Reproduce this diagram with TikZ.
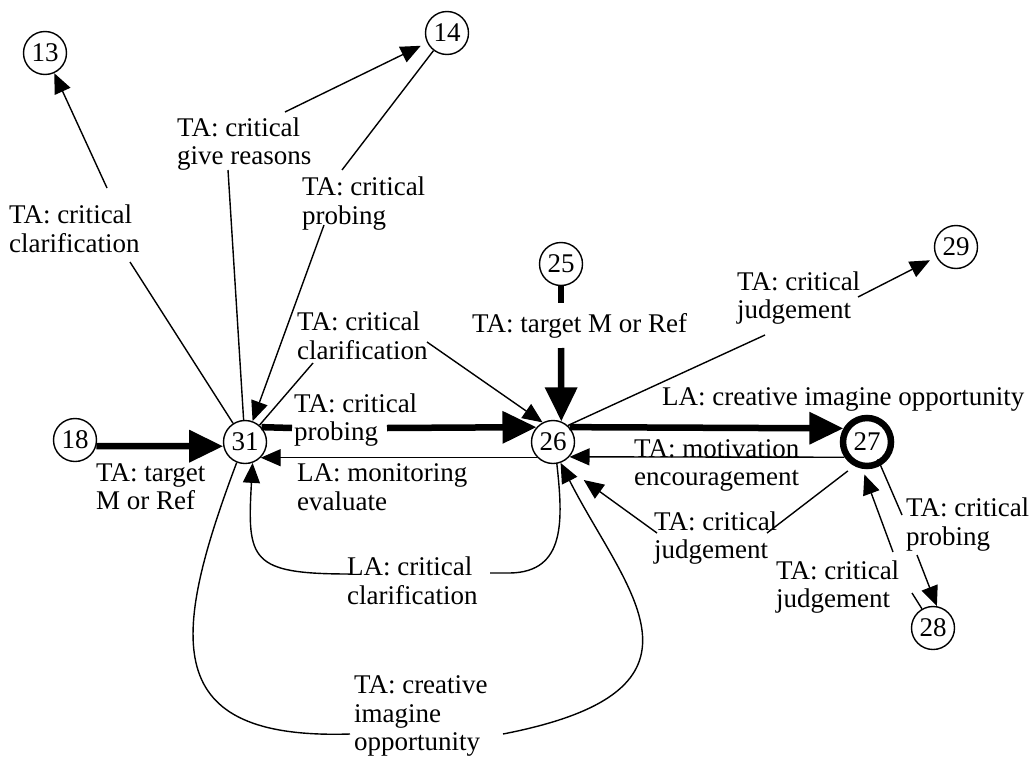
\documentclass[tikz,border=0pt]{standalone}
\usepackage{fontspec}
\setmainfont{Liberation Serif}
\usetikzlibrary{arrows.meta}
\begin{document}
\begin{tikzpicture}[x=1pt,y=-1pt,
  st/.style={circle,draw,line width=1.4pt,minimum size=43pt,inner sep=0pt,font=\fontsize{27}{27}\selectfont},
  lab/.style={anchor=west,align=left,inner sep=0pt,font=\fontsize{27}{28.5}\selectfont},
  ln/.style={line width=1.4pt},
  tarr/.style={line width=1.4pt,-{Triangle[length=20pt,width=17pt]}},
  tk/.style={line width=6.5pt},
  karr/.style={line width=6.5pt,-{Triangle[length=34pt,width=31pt]}}]
\useasboundingbox (0,0) rectangle (1032,765);
% state nodes
\node[st] (n13) at (45,53) {13};
\node[st] (n14) at (447,33) {14};
\node[st] (n25) at (561,264) {25};
\node[st] (n29) at (956,247) {29};
\node[st] (n18) at (75,440) {18};
\node[st] (n31) at (245,442) {31};
\node[st] (n26) at (553,442) {26};
\node[st,line width=6.5pt,minimum size=48pt] (n27) at (867,442) {27};
\node[st] (n28) at (933,628) {28};
% break points of connectors around labels
\coordinate (c1a) at (130,262); \coordinate (c1b) at (107,188);
\coordinate (c2a) at (228,170); \coordinate (c2b) at (285,112);
\coordinate (c3a) at (342,170); \coordinate (c3b) at (324,225);
\coordinate (c4a) at (313,363); \coordinate (c4b) at (427,342);
\coordinate (c5a) at (292,428); \coordinate (c5b) at (387,428);
\coordinate (c8a) at (561,303); \coordinate (c8b) at (561,348);
\coordinate (c11a) at (765,335); \coordinate (c11b) at (858,297);
\coordinate (c12a) at (767,533); \coordinate (c12b) at (657,533);
\coordinate (c13a) at (902,515); \coordinate (c13b) at (917,555);
\coordinate (c14a) at (912,593); \coordinate (c14b) at (893,552);
\coordinate (c15a) at (490,573); \coordinate (c15b) at (350,574);
\coordinate (c16a) at (350,734); \coordinate (c16b) at (503,734);
% connectors
\draw[ln] (n31) -- (c1a); \draw[tarr] (c1b) -- (n13);
\draw[ln] (n31) -- (c2a); \draw[tarr,shorten >=7pt] (c2b) -- (n14);
\draw[ln] (n14) -- (c3a); \draw[tarr] (c3b) -- (n31);
\draw[ln] (n31) -- (c4a); \draw[tarr] (c4b) -- (n26.118);
\draw[tk] (n31.42) -- (c5a); \draw[karr] (c5b) -- (n26.138);
\draw[tarr] (n26.-135) -- (n31.-45);
\draw[karr] (n18.-16) -- (n31.-169);
\draw[tk] (n25) -- (c8a); \draw[karr] (c8b) -- (n26.68);
\draw[karr] (n26.42) -- (n27.150);
\draw[tarr] (n27.-146) -- (n26.-42);
\draw[ln] (n26.48) -- (c11a); \draw[tarr,shorten >=7pt] (c11b) -- (n29);
\draw[ln,shorten <=8pt] (n27.-118) -- (c12a); \draw[tarr,shorten >=29pt] (c12b) -- (n26.-71);
\draw[ln,shorten <=-7pt] (n27.-60) -- (c13a); \draw[tarr] (c13b) -- (n28.80);
\draw[ln] (n28.120) -- (c14a); \draw[tarr,shorten >=6pt] (c14b) -- (n27.-100);
\draw[ln] (n26.-80) .. controls (563,520) and (566,572) .. (510,573) -- (c15a);
\draw[tarr] (c15b) .. controls (250,574) and (247,560) .. (n31.-70);
\draw[ln] (n31.-112) .. controls (170,640) and (160,740) .. (c16a);
\draw[tarr] (c16b) .. controls (730,690) and (625,590) .. (n26.-70);
% labels
\node[lab] (l1) at (9,229) {TA: critical\\clarification};
\node[lab] (l2) at (177,144) {TA: critical\\give reasons};
\node[lab] (l3) at (302,203.5) {TA: critical\\probing};
\node[lab] (l4) at (297,336) {TA: critical\\clarification};
\node[lab] (l5) at (294,420) {TA: critical\\probing};
\node[lab] (l6) at (96,486.5) {TA: target\\M or Ref};
\node[lab] (l7) at (297,487) {LA: monitoring\\evaluate};
\node[lab] (l8) at (347,581) {LA: critical\\clarification};
\node[lab] (l9) at (354,716) {TA: creative\\imagine\\opportunity};
\node[lab] (l10) at (472,326) {TA: target M or Ref};
\node[lab] (l11) at (737,298) {TA: critical\\judgement};
\node[lab] (l12) at (662,399) {LA: creative imagine opportunity};
\node[lab] (l13) at (634,465.5) {TA: motivation\\encouragement};
\node[lab] (l14) at (654,538) {TA: critical\\judgement};
\node[lab] (l15) at (906,524.5) {TA: critical\\probing};
\node[lab] (l16) at (776,587) {TA: critical\\judgement};
\end{tikzpicture}
\end{document}
